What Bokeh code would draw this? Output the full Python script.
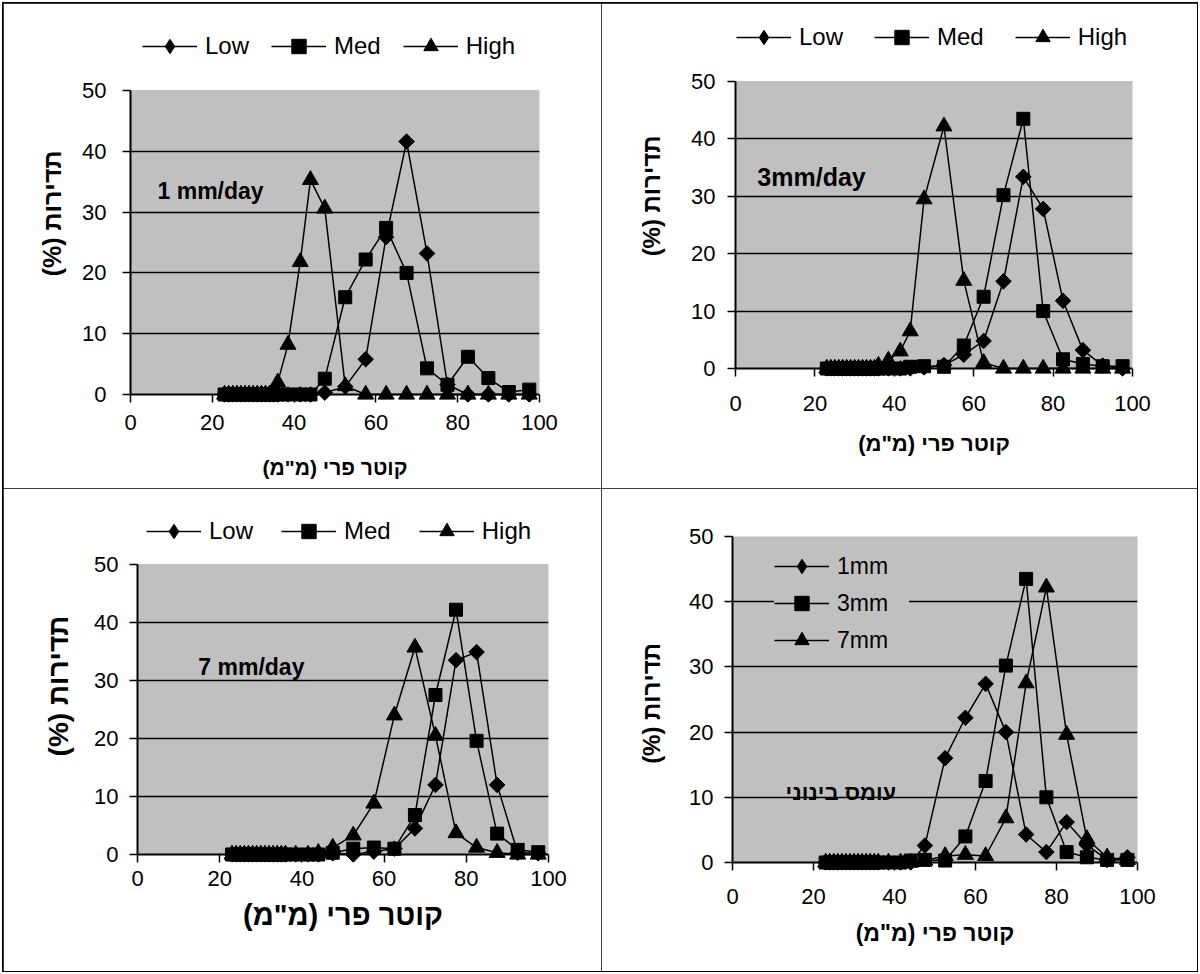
import math
from bokeh.plotting import figure
from bokeh.models import (Range1d, FixedTicker, Legend, LegendItem, Label,
                          BoxAnnotation, Span)
from bokeh.layouts import column, row
from bokeh.embed import file_html
from bokeh.resources import INLINE

# ---------------- data ----------------
diameter = [23, 24, 25, 26, 27, 28, 29, 30, 31, 32, 33, 34, 35, 36, 38.5, 41.5, 44,
            47.5, 52.5, 57.5, 62.5, 67.5, 72.5, 77.5, 82.5, 87.5, 92.5, 97.5]

low_1mm = [0, 0, 0, 0, 0, 0, 0, 0, 0, 0, 0, 0, 0, 0, 0, 0, 0,
           0.3, 1.3, 5.8, 25.9, 41.6, 23.2, 1.6, 0, 0, 0, 0]
med_1mm = [0, 0, 0, 0, 0, 0, 0, 0, 0, 0, 0, 0, 0, 0, 0, 0, 0,
           2.6, 16.0, 22.2, 27.4, 20.0, 4.3, 1.6, 6.2, 2.7, 0.4, 0.8]
high_1mm = [0, 0, 0, 0, 0, 0, 0, 0, 0, 0, 0, 0, 0, 2.0, 8.2, 21.8, 35.3,
            30.6, 1.4, 0, 0, 0, 0, 0, 0, 0, 0, 0]

low_3mm = [0, 0, 0, 0, 0, 0, 0, 0, 0, 0, 0, 0, 0, 0, 0, 0, 0,
           0.2, 0.6, 2.4, 4.8, 15.2, 33.4, 27.8, 11.8, 3.2, 0.5, 0]
med_3mm = [0, 0, 0, 0, 0, 0, 0, 0, 0, 0, 0, 0, 0, 0, 0, 0, 0.3,
           0.4, 0.3, 4.0, 12.5, 30.2, 43.5, 10.0, 1.6, 0.8, 0.4, 0.4]
high_3mm = [0, 0, 0, 0, 0, 0, 0, 0, 0, 0, 0, 0, 0, 0.5, 1.4, 3.0, 6.5,
            29.5, 42.2, 15.3, 1.0, 0, 0, 0, 0, 0, 0, 0]

low_7mm = [0, 0, 0, 0, 0, 0, 0, 0, 0, 0, 0, 0, 0, 0, 0, 0, 0,
           0.2, 0, 0.5, 1.0, 4.5, 12.0, 33.5, 34.9, 12.0, 0.3, 0.2]
med_7mm = [0, 0, 0, 0, 0, 0, 0, 0, 0, 0, 0, 0, 0, 0, 0, 0, 0,
           0.3, 1.0, 1.2, 1.0, 6.8, 27.5, 42.2, 19.6, 3.6, 0.8, 0.4]
high_7mm = [0, 0, 0, 0, 0, 0, 0, 0, 0, 0, 0, 0, 0, 0, 0, 0, 0.3,
            1.2, 3.3, 8.8, 24.0, 35.7, 20.5, 3.7, 1.2, 0.3, 0, 0]

load_labels = ["Low", "Med", "High"]
rate_labels = ["1mm", "3mm", "7mm"]
panel_notes = ["1 mm/day", "3mm/day", "7 mm/day", "עומס בינוני"]
x_ticks = [0, 20, 40, 60, 80, 100]
y_ticks = [0, 10, 20, 30, 40, 50]
grid_ticks = [10, 20, 30, 40]

RLM = "\u200f"
x_title = 'קוטר פרי (מ"מ)' + RLM
y_title = 'תדירות (%)' + RLM

FONT = "Liberation Sans"
EXT = 8  # px of frame kept below zero (= tick length) so zero-markers are not cut
ORIGIN = (3, 3)  # page position of the layout (outer border)
GH = 36  # legend row height

# (marker, angle, size); the first is an Excel-like diamond (square turned 45°)
MARKERS = [("square", math.pi / 4, 11), ("square", 0.0, 13), ("triangle", 0.0, 16)]


def make_panel(cfg, series, labels, note):
    cx, cy, cw, ch = cfg["cell"]
    fl, fr, ft, fz = cfg["frame"]      # plot-area edges (page px): left, right, top(50), zero
    ftop = cfg.get("frame_top", ft)   # frame may reach higher to hold the legend
    fb = fz + EXT
    ppu = (fz - ft) / 50.0
    ystart = -EXT / ppu
    yend = 50 + (ft - ftop) / ppu
    p = figure(width=cw, height=ch,
               x_range=Range1d(0, 100), y_range=Range1d(ystart, yend),
               output_backend="svg", toolbar_location=None,
               min_border_left=fl - cx, min_border_right=cx + cw - fr,
               min_border_top=ftop - cy, min_border_bottom=cy + ch - fb,
               background_fill_color="white", border_fill_color="white",
               outline_line_color=None)
    p.styles = {"outline": "1px solid #000", "outline-offset": "-1px"}

    p.add_layout(BoxAnnotation(left=0, right=100, bottom=0, top=50,
                               fill_color="#c0c0c0", fill_alpha=1.0,
                               line_color="#808080", line_width=1,
                               level="image"))

    p.xgrid.grid_line_color = None
    p.ygrid.ticker = FixedTicker(ticks=grid_ticks)
    p.ygrid.grid_line_color = "black"
    p.ygrid.grid_line_width = 1.5

    xa = p.xaxis[0]
    xa.ticker = FixedTicker(ticks=x_ticks)
    xa.axis_line_color = None
    xa.major_tick_in = EXT
    xa.major_tick_out = 0
    ya = p.yaxis[0]
    ya.bounds = (0, 50)
    ya.ticker = FixedTicker(ticks=y_ticks)
    ya.axis_line_color = "black"
    ya.axis_line_width = 2
    ya.major_tick_out = 8
    ya.major_tick_in = 0
    for ax in (xa, ya):
        ax.major_tick_line_color = "black"
        ax.major_tick_line_width = 1.5
        ax.minor_tick_line_color = None
        ax.major_label_text_font = FONT
        ax.major_label_text_font_size = cfg["tick_fs"]
        ax.major_label_text_color = "black"
        ax.axis_label_text_font = FONT
        ax.axis_label_text_font_style = "bold"
        ax.axis_label_text_color = "black"
    xa.major_label_standoff = cfg["xlab_std"]
    ya.major_label_standoff = cfg["ylab_std"]
    xa.axis_label = x_title
    ya.axis_label = y_title
    xa.axis_label_text_font_size = cfg["xt_fs"]
    ya.axis_label_text_font_size = cfg["yt_fs"]
    xa.axis_label_standoff = cfg["xt_std"]
    ya.axis_label_standoff = cfg["yt_std"]

    # x axis line at zero
    p.add_layout(Span(location=0, dimension="width", line_color="black",
                      line_width=2, level="underlay"))

    items = []
    for k, (ys, lab, (mk, ang, sz)) in enumerate(zip(series, labels, MARKERS)):
        rl = p.line(diameter, ys, line_color="black", line_width=1.5)
        rs = p.scatter(diameter, ys, marker=mk, angle=ang, size=sz,
                       fill_color="black", line_color="black")
        leg_r = [rl, rs]
        if k == 0:
            # legend swatches are drawn unrotated, so give the legend a
            # diamond marker (it lies fully inside the turned square)
            rd = p.scatter(diameter, ys, marker="diamond", size=14,
                           fill_color="black", line_color="black")
            leg_r = [rl, rd]
        items.append(LegendItem(label=lab, renderers=leg_r))

    lg = cfg["legend"]
    left, top, height = lg["left"], lg["top"], lg["height"]
    loc = (left - fl, fb - (top + height) + lg.get("corr", 0))
    legend = Legend(items=items, location=loc, orientation=lg["orient"],
                    glyph_width=55, glyph_height=GH, label_height=GH,
                    label_width=lg.get("label_w", 20),
                    label_standoff=8, spacing=lg["spacing"],
                    padding=lg["padding"], margin=0,
                    border_line_color=None,
                    background_fill_color="#c0c0c0",
                    background_fill_alpha=lg["bg_alpha"],
                    label_text_font=FONT, label_text_font_size=lg["fs"],
                    label_text_color="black")
    p.add_layout(legend)

    nx, ny, nfs = cfg["note"]
    p.add_layout(Label(x=nx, y=ny, text=note, text_font=FONT,
                       text_font_size=nfs, text_font_style="bold",
                       text_color="black", text_baseline="alphabetic",
                       text_align="left"))
    return p


def top_leg(left, center, spacing):
    return dict(left=left, top=center - GH // 2, height=GH, orient="horizontal",
                spacing=spacing, padding=0, bg_alpha=0, fs="24px")


cfg1 = dict(cell=(3, 3, 598, 485), frame=(130, 539, 90, 394), frame_top=24,
            tick_fs="22px", xlab_std=12, ylab_std=16,
            xt_fs="21px", yt_fs="25px", xt_std=23, yt_std=13,
            note=(6.6, 33.4, "23px"),
            legend=top_leg(142, 46, 22))
cfg2 = dict(cell=(601, 3, 596, 485), frame=(735, 1132, 81, 368), frame_top=15,
            tick_fs="22px", xlab_std=19, ylab_std=12,
            xt_fs="22px", yt_fs="24px", xt_std=17, yt_std=23,
            note=(5.5, 33.4, "25px"),
            legend=top_leg(736, 37, 31))
cfg3 = dict(cell=(3, 488, 598, 483), frame=(137, 548, 564, 854), frame_top=509,
            tick_fs="22px", xlab_std=8, ylab_std=11,
            xt_fs="29px", yt_fs="28px", xt_std=10, yt_std=17,
            note=(14.8, 32.3, "23px"),
            legend=top_leg(146, 531, 28))
cfg4 = dict(cell=(601, 488, 596, 483), frame=(732, 1137, 536, 862),
            tick_fs="22px", xlab_std=18, ylab_std=11,
            xt_fs="23px", yt_fs="24px", xt_std=13, yt_std=21,
            note=(13.1, 10.8, "22px"),
            legend=dict(left=780 - 6, top=541, height=3 * GH + 2 + 12, corr=5,
                        orient="vertical", spacing=1, padding=6, bg_alpha=1,
                        fs="23px", label_w=72))

p1 = make_panel(cfg1, [low_1mm, med_1mm, high_1mm], load_labels, panel_notes[0])
p2 = make_panel(cfg2, [low_3mm, med_3mm, high_3mm], load_labels, panel_notes[1])
p3 = make_panel(cfg3, [low_7mm, med_7mm, high_7mm], load_labels, panel_notes[2])
p4 = make_panel(cfg4, [med_1mm, med_3mm, med_7mm], rate_labels, panel_notes[3])

# each figure in its own column so that Bokeh does not align their frames
layout = column(row(column(p1), column(p2)), row(column(p3), column(p4)))
layout.margin = (ORIGIN[1], 0, 0, ORIGIN[0])
layout.styles = {"outline": "1px solid #000"}

open("out.html", "w").write(file_html(layout, INLINE))
